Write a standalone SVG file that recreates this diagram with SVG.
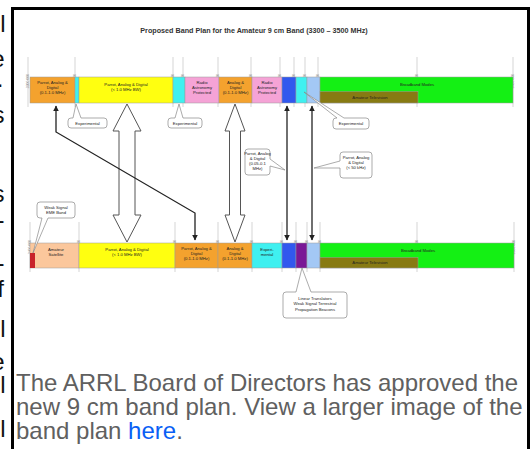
<svg xmlns="http://www.w3.org/2000/svg" width="531" height="449" viewBox="0 0 531 449">
<defs>
<style>
.seg{stroke:#9a9a9a;stroke-width:0.5}
.lbl{font-family:"Liberation Sans",Arial,sans-serif;font-size:4.2px;fill:#222;text-anchor:middle}
.tick{stroke:#aaa;stroke-width:0.5}
.tl{font-family:"Liberation Sans",Arial,sans-serif;font-size:3.4px;fill:#888;text-anchor:end}
.bub{fill:#fff;stroke:#888;stroke-width:0.7}
.big{fill:#fff;stroke:#555;stroke-width:1}
.thin{fill:none;stroke:#222;stroke-width:1.3}
.cap{font-family:"Liberation Sans",Arial,sans-serif;font-size:24px;fill:#606060}
.frag{font-family:"Liberation Sans",Arial,sans-serif;font-size:24px;fill:#111;text-anchor:end}
</style>
<marker id="ah" viewBox="0 0 10 10" refX="9" refY="5" markerWidth="4.5" markerHeight="4.5" orient="auto-start-reverse" markerUnits="strokeWidth"><path d="M0,0 L10,5 L0,10 Z" fill="#222"/></marker>
<clipPath id="fragclip"><rect x="0" y="0" width="5" height="449"/></clipPath>
</defs>
<rect width="531" height="449" fill="#fff"/>

<g id="fragments" clip-path="url(#fragclip)">
<text class="frag" x="5.5" y="32">l</text>
<text class="frag" x="4.5" y="67">e</text>
<text class="frag" x="3.5" y="87">.</text>
<text class="frag" x="4.5" y="123">s</text>
<text class="frag" x="4.5" y="202">s</text>
<text class="frag" x="4.5" y="228">-</text>
<text class="frag" x="4.5" y="271">-</text>
<text class="frag" x="4" y="297">f</text>
<text class="frag" x="5.5" y="337">l</text>
<text class="frag" x="4.5" y="370">e</text>
<text class="frag" x="5.5" y="393">l</text>
<text class="frag" x="5.5" y="437">l</text>
</g>

<path id="frame" d="M12.5,449 V8.5 H528.5 V449" fill="none" stroke="#000" stroke-width="3"/>

<text id="title" x="254" y="32.5" text-anchor="middle" font-family="'Liberation Sans',Arial,sans-serif" font-size="7.2" font-weight="bold" fill="#333">Proposed Band Plan for the Amateur 9 cm Band (3300 – 3500 MHz)</text>

<g id="ticks-top">
<path class="tick" d="M28,57V107 M75,57V107 M173,57V107 M183,57V107 M218,57V107 M251,57V107 M280,57V107 M294,57V107 M305,57V107 M318,57V107 M417,57V107 M513,57V107"/>
<g class="tl">
<text transform="translate(29,74) rotate(-90)">3300.000</text>
<text transform="translate(76,74) rotate(-90)">3310.000</text>
<text transform="translate(174,74) rotate(-90)">3330.000</text>
<text transform="translate(184,74) rotate(-90)">3332.000</text>
<text transform="translate(219,74) rotate(-90)">3339.000</text>
<text transform="translate(252,74) rotate(-90)">3345.800</text>
<text transform="translate(281,74) rotate(-90)">3352.500</text>
<text transform="translate(295,74) rotate(-90)">3355.000</text>
<text transform="translate(306,74) rotate(-90)">3357.000</text>
<text transform="translate(319,74) rotate(-90)">3360.000</text>
<text transform="translate(418,74) rotate(-90)">3380.000</text>
<text transform="translate(514,74) rotate(-90)">3400.000</text>
</g>
</g>

<g id="ticks-bottom">
<path class="tick" d="M30,222V272 M79,222V272 M175,222V272 M218,222V272 M252,222V272 M282,222V272 M296,222V272 M307,222V272 M320,222V272 M417,222V272 M514,222V272"/>
<g class="tl">
<text transform="translate(31,240) rotate(-90)">3400.000</text>
<text transform="translate(80,240) rotate(-90)">3410.000</text>
<text transform="translate(176,240) rotate(-90)">3420.000</text>
<text transform="translate(219,240) rotate(-90)">3425.000</text>
<text transform="translate(253,240) rotate(-90)">3430.000</text>
<text transform="translate(283,240) rotate(-90)">3455.000</text>
<text transform="translate(297,240) rotate(-90)">3456.000</text>
<text transform="translate(308,240) rotate(-90)">3456.300</text>
<text transform="translate(321,240) rotate(-90)">3457.000</text>
<text transform="translate(418,240) rotate(-90)">3480.000</text>
<text transform="translate(515,240) rotate(-90)">3500.000</text>
</g>
</g>

<!-- top band -->
<g id="t-orange1"><rect class="seg" x="30" y="77" width="45" height="26" fill="#f4a22e"/>
<text class="lbl" x="52.5" y="83.5">Parrot, Analog &amp;</text><text class="lbl" x="52.5" y="88.5">Digital</text><text class="lbl" x="52.5" y="93.5">(0.1-1.0 MHz)</text></g>
<g id="t-cyan1"><rect class="seg" x="75" y="77" width="4" height="26" fill="#3ff0f0"/></g>
<g id="t-yellow"><rect class="seg" x="79" y="77" width="94" height="26" fill="#ffff10"/>
<text class="lbl" x="126" y="85.5">Parrot, Analog &amp; Digital</text><text class="lbl" x="126" y="90.5">(&lt; 1.0 MHz BW)</text></g>
<g id="t-cyan2"><rect class="seg" x="173" y="77" width="12" height="26" fill="#3ff0f0"/></g>
<g id="t-pink1"><rect class="seg" x="185" y="77" width="34" height="26" fill="#f5a3d6"/>
<text class="lbl" x="202" y="83.5">Radio</text><text class="lbl" x="202" y="88.5">Astronomy</text><text class="lbl" x="202" y="93.5">Protected</text></g>
<g id="t-orange2"><rect class="seg" x="219" y="77" width="33" height="26" fill="#f4a22e"/>
<text class="lbl" x="235.5" y="83.5">Analog &amp;</text><text class="lbl" x="235.5" y="88.5">Digital</text><text class="lbl" x="235.5" y="93.5">(0.1-1.0 MHz)</text></g>
<g id="t-pink2"><rect class="seg" x="252" y="77" width="30" height="26" fill="#f5a3d6"/>
<text class="lbl" x="267" y="83.5">Radio</text><text class="lbl" x="267" y="88.5">Astronomy</text><text class="lbl" x="267" y="93.5">Protected</text></g>
<g id="t-blue"><rect class="seg" x="282" y="77" width="14" height="26" fill="#3158ee"/></g>
<g id="t-cyan3"><rect class="seg" x="296" y="77" width="11" height="26" fill="#3ff0f0"/></g>
<g id="t-lightblue"><rect class="seg" x="307" y="77" width="13" height="26" fill="#a3c8f5"/></g>
<g id="t-green"><rect class="seg" x="320" y="77" width="193" height="26" fill="#14f014"/>
<text class="lbl" x="417" y="85.5">Broadband Modes</text></g>
<g id="t-olive"><rect class="seg" x="320" y="91.5" width="98" height="11.5" fill="#877a12"/>
<text class="lbl" x="370" y="98.5">Amateur Television</text></g>

<!-- bottom band -->
<g id="b-peach"><rect class="seg" x="30" y="243" width="49" height="25" fill="#fbc79c"/>
<text class="lbl" x="56" y="250.5">Amateur</text><text class="lbl" x="56" y="255.5">Satellite</text></g>
<g id="b-red"><rect x="30" y="253" width="5" height="15" fill="#c8222a"/></g>
<g id="b-yellow"><rect class="seg" x="79" y="243" width="96" height="25" fill="#ffff10"/>
<text class="lbl" x="127" y="251">Parrot, Analog &amp; Digital</text><text class="lbl" x="127" y="256">(&lt; 1.0 MHz BW)</text></g>
<g id="b-orange1"><rect class="seg" x="175" y="243" width="43" height="25" fill="#f4a22e"/>
<text class="lbl" x="196.5" y="249.5">Parrot, Analog &amp;</text><text class="lbl" x="196.5" y="254.5">Digital</text><text class="lbl" x="196.5" y="259.5">(0.1-1.0 MHz)</text></g>
<g id="b-orange2"><rect class="seg" x="218" y="243" width="34" height="25" fill="#f4a22e"/>
<text class="lbl" x="235" y="249.5">Analog &amp;</text><text class="lbl" x="235" y="254.5">Digital</text><text class="lbl" x="235" y="259.5">(0.1-1.0 MHz)</text></g>
<g id="b-cyan"><rect class="seg" x="252" y="243" width="30" height="25" fill="#3ff0f0"/>
<text class="lbl" x="267" y="250.5">Experi-</text><text class="lbl" x="267" y="255.5">mental</text></g>
<g id="b-blue"><rect class="seg" x="282" y="243" width="14" height="25" fill="#3158ee"/></g>
<g id="b-purple"><rect class="seg" x="296" y="243" width="11" height="25" fill="#7a1896"/></g>
<g id="b-lightblue"><rect class="seg" x="307" y="243" width="13" height="25" fill="#a3c8f5"/></g>
<g id="b-green"><rect class="seg" x="320" y="243" width="194" height="25" fill="#14f014"/>
<text class="lbl" x="418" y="252">Broadband Modes</text></g>
<g id="b-olive"><rect class="seg" x="320" y="257.5" width="98" height="10.5" fill="#877a12"/>
<text class="lbl" x="370" y="264">Amateur Television</text></g>

<!-- callouts -->
<g id="c-exp1"><path class="bub" d="M71,118 L73,118 L76,104 L81,118 L104,118 Q107,118 107,121 L107,125 Q107,128 104,128 L71,128 Q68,128 68,125 L68,121 Q68,118 71,118 Z"/>
<text class="lbl" x="87.5" y="124.5">Experimental</text></g>
<g id="c-exp2"><path class="bub" d="M171,118 L175,118 L179,104 L183,118 L199,118 Q202,118 202,121 L202,125 Q202,128 199,128 L171,128 Q168,128 168,125 L168,121 Q168,118 171,118 Z"/>
<text class="lbl" x="185" y="124.5">Experimental</text></g>
<g id="c-exp3"><path class="bub" d="M336,118 L337,118 L304,92 L344,118 L366,118 Q369,118 369,121 L369,126 Q369,129 366,129 L336,129 Q333,129 333,126 L333,121 Q333,118 336,118 Z"/>
<text class="lbl" x="351" y="125">Experimental</text></g>
<g id="c-parrot005"><path class="bub" d="M248,149 L267,149 Q270,149 270,152 L270,159 L285,170 L270,166 L270,172 Q270,175 267,175 L248,175 Q245,175 245,172 L245,152 Q245,149 248,149 Z"/>
<text class="lbl" x="257.5" y="155">Parrot, Analog</text><text class="lbl" x="257.5" y="160">&amp; Digital</text><text class="lbl" x="257.5" y="165">(0.05-0.1</text><text class="lbl" x="257.5" y="170">MHz)</text></g>
<g id="c-parrot50"><path class="bub" d="M343,152 L369,152 Q372,152 372,155 L372,175 Q372,178 369,178 L343,178 Q340,178 340,175 L340,168 L314,168 L340,161 L340,155 Q340,152 343,152 Z"/>
<text class="lbl" x="356" y="159">Parrot, Analog</text><text class="lbl" x="356" y="164">&amp; Digital</text><text class="lbl" x="356" y="169">(&lt; 50 kHz)</text></g>
<g id="c-eme"><path class="bub" d="M40,202 L72,202 Q75,202 75,205 L75,215 Q75,218 72,218 L48,218 L33,253 L42,218 L40,218 Q37,218 37,215 L37,205 Q37,202 40,202 Z"/>
<text class="lbl" x="56" y="209">Weak Signal</text><text class="lbl" x="56" y="214">EME Band</text></g>
<g id="c-linear"><path class="bub" d="M286,292 L296,292 L302,268 L311,292 L344,292 Q347,292 347,295 L347,315 Q347,318 344,318 L286,318 Q283,318 283,315 L283,295 Q283,292 286,292 Z"/>
<text class="lbl" x="315" y="299.5">Linear Translators</text><text class="lbl" x="315" y="305">Weak Signal Terrestrial</text><text class="lbl" x="315" y="310.5">Propagation Beacons</text></g>

<g id="connectors">
<path class="big" d="M127,104 L141,131 L135,131 L135,215 L141,215 L127,242 L113,215 L119,215 L119,131 L113,131 Z"/>
<path class="big" d="M235,104 L245,131 L240.5,131 L240.5,215 L245,215 L235,242 L225,215 L229.5,215 L229.5,131 L225,131 Z"/>
<path class="thin" d="M56,106 L56,132 L195,213 L195,240" marker-start="url(#ah)" marker-end="url(#ah)"/>
<path class="thin" d="M287,106 L287,240" marker-start="url(#ah)" marker-end="url(#ah)"/>
<path class="thin" d="M312,106 L312,240" marker-start="url(#ah)" marker-end="url(#ah)"/>
</g>

<g id="caption">
<text class="cap" x="16" y="391">The ARRL Board of Directors has approved the</text>
<text class="cap" x="16" y="415">new 9 cm band plan. View a larger image of the</text>
<text class="cap" x="16" y="439">band plan <tspan fill="#0a5ff5">here</tspan>.</text>
</g>
</svg>
